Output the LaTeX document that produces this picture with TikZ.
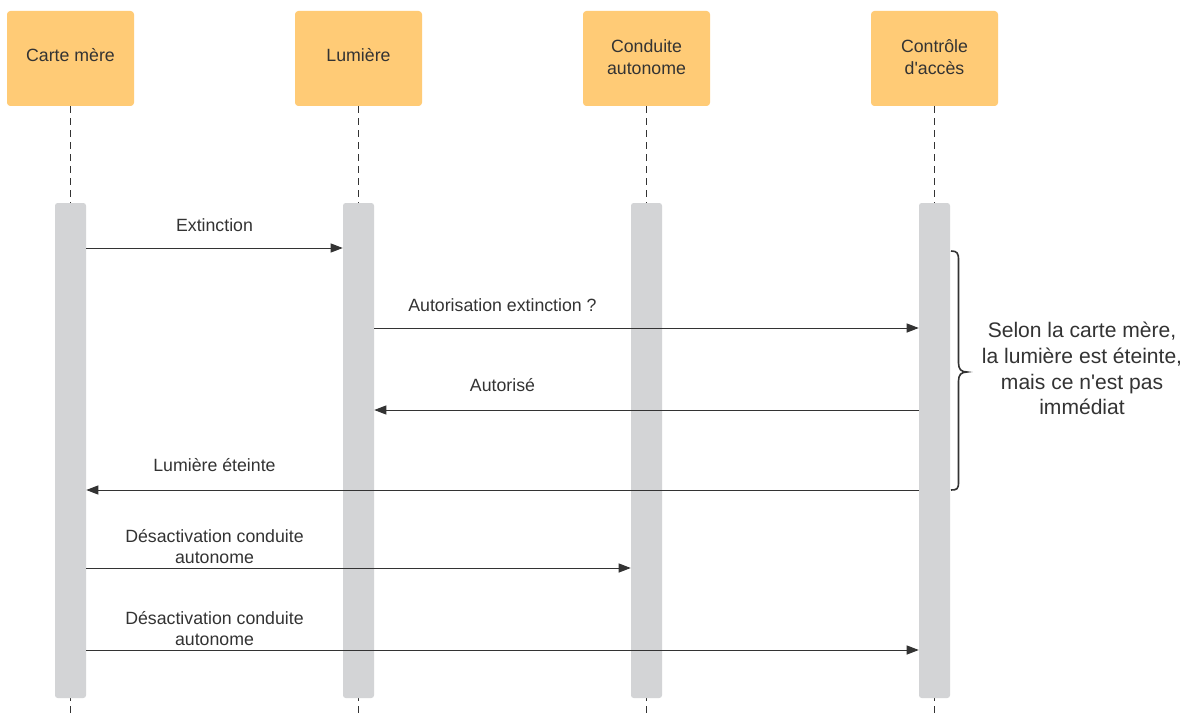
\documentclass[tikz,border=0pt]{standalone}
\usepackage{fontspec}
\setmainfont{Liberation Sans}
\usetikzlibrary{arrows.meta}
\definecolor{hdr}{HTML}{FFCB76}
\definecolor{bar}{HTML}{D3D4D6}
\definecolor{ink}{HTML}{333333}
\begin{document}
\begin{tikzpicture}[x=0.75pt,y=-0.75pt,
  header/.style={fill=hdr,draw=none,rounded corners=2.5pt,minimum width=95.25pt,minimum height=71.25pt,inner sep=0pt,align=center,text=ink,font=\fontsize{13.3}{16.5}\selectfont},
  htext/.style={text=ink,align=center,inner sep=0pt,font=\fontsize{13.3}{16.5}\selectfont},
  actbar/.style={fill=bar,draw=none,rounded corners=2pt,minimum width=23.25pt,minimum height=371.25pt,inner sep=0pt},
  life/.style={draw=ink,line width=0.6pt,dash pattern=on 5.25pt off 3.75pt},
  msg/.style={draw=ink,line width=0.75pt,-{Triangle[length=9pt,width=6.75pt]}},
  lbl/.style={text=ink,align=center,inner sep=0pt,font=\fontsize{13.3}{15.75}\selectfont},
  note/.style={text=ink,align=center,inner sep=0pt,font=\fontsize{15.8}{19.3}\selectfont}]
\useasboundingbox (0,0) rectangle (1191,713);
\fill[white] (0,0) rectangle (1191,713);
% headers
\node[header] (h1) at (70.5,58.5) {};
\node[header] (h2) at (358.5,58.5) {};
\node[header] (h3) at (646.5,58.5) {};
\node[header] (h4) at (934.5,58.5) {};
\node[htext] (t1) at (70.5,55) {Carte mère};
\node[htext] (t2) at (358.5,55) {Lumière};
\node[htext] (t3) at (646.5,57) {Conduite\\autonome};
\node[htext] (t4) at (934.5,57) {Contrôle\\d\textquotesingle accès};
% lifeline ends
\coordinate (e1) at (70.5,713);
\coordinate (e2) at (358.5,713);
\coordinate (e3) at (646.5,713);
\coordinate (e4) at (934.5,713);
\draw[life] (h1.south) -- (e1);
\draw[life] (h2.south) -- (e2);
\draw[life] (h3.south) -- (e3);
\draw[life] (h4.south) -- (e4);
% activation bars
\node[actbar] (b1) at (70.5,450.5) {};
\node[actbar] (b2) at (358.5,450.5) {};
\node[actbar] (b3) at (646.5,450.5) {};
\node[actbar] (b4) at (934.5,450.5) {};
% messages
\draw[msg] (b1.east |- 0,248) -- (b2.west |- 0,248);
\node[lbl] (l1) at (214.5,225) {Extinction};
\draw[msg] (b2.east |- 0,328) -- (b4.west |- 0,328);
\node[lbl] (l2) at (502.5,305) {Autorisation extinction ?};
\draw[msg] (b4.west |- 0,410) -- (b2.east |- 0,410);
\node[lbl] (l3) at (502.5,385) {Autorisé};
\draw[msg] (b4.west |- 0,490) -- (b1.east |- 0,490);
\node[lbl] (l4) at (214.5,465) {Lumière éteinte};
\draw[msg] (b1.east |- 0,568) -- (b3.west |- 0,568);
\node[lbl] (l5) at (214.5,547) {Désactivation conduite\\autonome};
\draw[msg] (b1.east |- 0,650) -- (b4.west |- 0,650);
\node[lbl] (l6) at (214.5,629) {Désactivation conduite\\autonome};
% brace
\draw[draw=ink,line width=1.2pt] (951,251) .. controls (957,251) and (958.5,253) .. (958.5,260) -- (958.5,363) .. controls (958.5,369) and (961,372) .. (967,372) .. controls (961,372) and (958.5,375) .. (958.5,381) -- (958.5,482) .. controls (958.5,489) and (957,490) .. (951,490);
\node[note] (n1) at (1082,368.5) {Selon la carte mère,\\la lumière est éteinte,\\mais ce n\textquotesingle est pas\\immédiat};
\end{tikzpicture}
\end{document}
